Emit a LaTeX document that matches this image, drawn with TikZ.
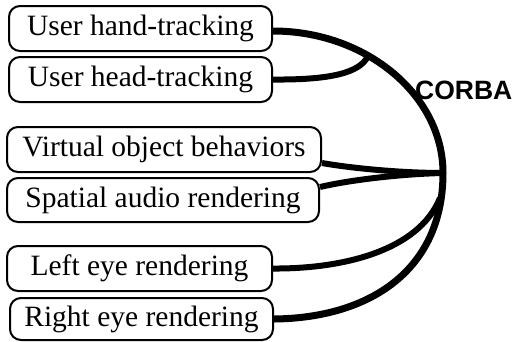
\documentclass[tikz,border=0pt]{standalone}
\usepackage{fontspec}
\setmainfont{Liberation Serif}
\newfontfamily\corbafont{Liberation Sans}
\usetikzlibrary{calc}
\begin{document}
\begin{tikzpicture}[x=1pt,y=-1pt,
  box/.style={draw, line width=2pt, rounded corners=11pt, inner sep=0pt,
    font=\fontsize{29.5}{31}\selectfont},
  wire/.style={line width=6pt},
  mainwire/.style={line width=7pt}]
\useasboundingbox (0,0) rectangle (514,341);
\node[box, minimum width=263pt, minimum height=45pt] (n1) at (140.5,28.5) {User hand-tracking};
\node[box, minimum width=263pt, minimum height=45pt] (n2) at (140.5,79.5) {User head-tracking};
\node[box, minimum width=314pt, minimum height=45pt] (n3) at (164,149.5) {Virtual object behaviors};
\node[box, minimum width=312pt, minimum height=44pt] (n4) at (163,200) {Spatial audio rendering};
\node[box, minimum width=265pt, minimum height=45pt] (n5) at (139.5,268.5) {Left eye rendering};
\node[box, minimum width=263pt, minimum height=42pt] (n6) at (141.5,319) {Right eye rendering};
\node[anchor=base west, inner sep=0pt, font=\corbafont\bfseries\fontsize{26.5}{28}\selectfont] (corba) at (415,99.5) {CORBA};
\coordinate (J) at (443,173);
\coordinate (H) at (368,56);
\coordinate (L) at (440,198);
\draw[mainwire] ([yshift=-2.5pt]n1.east) .. controls (366,31) and (443,95) .. (J)
  .. controls (443,270) and (370,318) .. (n6.east);
\draw[wire] (n2.east) .. controls (330,80) and (360,73) .. (H);
\draw[wire] ([yshift=-13.5pt]n3.east) .. controls (350,168) and (400,173) .. (J);
\draw[wire] ([yshift=13pt]n4.east) .. controls (350,180) and (400,174) .. (J);
\draw[wire] (n5.east) .. controls (340,269) and (418,252) .. (L);
\end{tikzpicture}
\end{document}
